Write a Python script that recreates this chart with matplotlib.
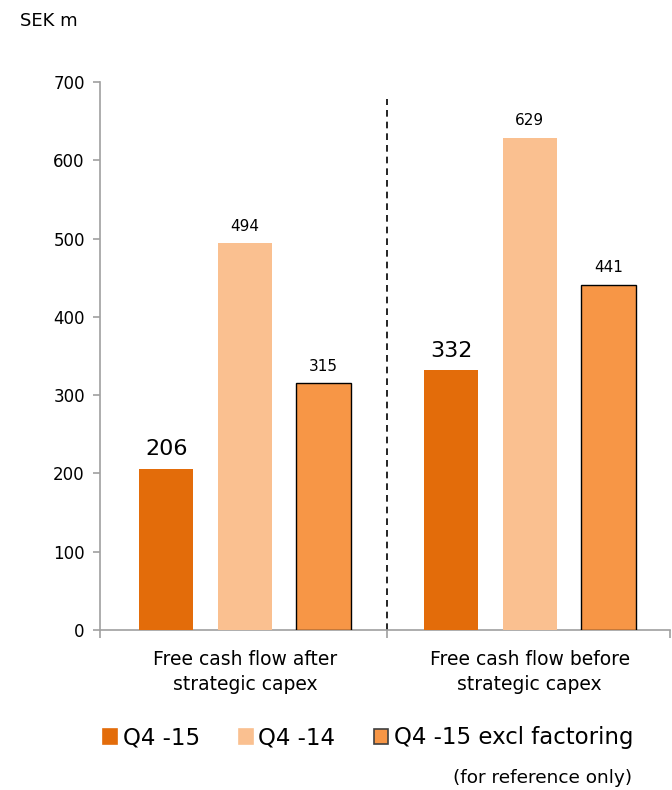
import numpy as np
import matplotlib
matplotlib.use('Agg')
import matplotlib.pyplot as plt
from matplotlib.patches import Patch

# data
categories = ["Free cash flow after\nstrategic capex", "Free cash flow before\nstrategic capex"]
series_names = ["Q4 -15", "Q4 -14", "Q4 -15 excl factoring"]
q4_15 = [206, 332]
q4_14 = [494, 629]
q4_15_excl = [315, 441]

colors = ["#E36C0A", "#FAC090", "#F79646"]
edges = ["none", "none", "black"]
label_sizes = [16, 11, 11]

plt.rcParams['font.family'] = ['Verdana', 'DejaVu Sans']

fig = plt.figure(figsize=(6.72, 7.9), dpi=100)
ax = fig.add_axes([0.149, 0.2025, 0.848, 0.6935])

x = np.arange(len(categories))
w = 0.19
step = 0.276
for i, vals in enumerate([q4_15, q4_14, q4_15_excl]):
    pos = x + (i - 1) * step
    ax.bar(pos, vals, w, color=colors[i], edgecolor=edges[i],
           linewidth=1.0 if edges[i] != "none" else 0, zorder=3)
    for p, v in zip(pos, vals):
        ax.text(p, v + 12, str(v), ha='center', va='bottom',
                fontsize=label_sizes[i], color='black')

xl = (-0.508, 1.492)
ax.set_xlim(*xl)
ax.set_ylim(0, 700)
ax.set_yticks(np.arange(0, 701, 100))
ax.set_xticks([xl[0], 0.5, xl[1]])
ax.set_xticklabels([])
for xi, c in zip(x, categories):
    ax.text(xi, -25, c, ha='center', va='top', fontsize=13.5,
            linespacing=1.4, transform=ax.transData)

ax.vlines(0.5, 0, 678, colors='black', linestyles=(0, (4, 3)), linewidth=1.2)

for s in ['top', 'right']:
    ax.spines[s].set_visible(False)
for s in ['left', 'bottom']:
    ax.spines[s].set_color('#A0A0A0')
    ax.spines[s].set_linewidth(1.2)
ax.tick_params(axis='y', colors='#A0A0A0', labelcolor='black', labelsize=12,
               length=5, width=1.2, pad=6)
ax.tick_params(axis='x', colors='#A0A0A0', length=6, width=1.2, direction='out')

fig.text(0.03, 0.973, "SEK m", fontsize=13, ha='left', va='center')

handles = [Patch(facecolor=colors[i], edgecolor=('#404040' if edges[i] != "none" else colors[i]),
                 linewidth=1.2) for i in range(3)]
fig.legend(handles, series_names, loc='center', bbox_to_anchor=(0.548, 0.066),
           ncol=3, frameon=False, fontsize=16.5, handlelength=0.6, handleheight=0.6,
           handletextpad=0.25, columnspacing=1.7)

fig.text(0.94, 0.015, "(for reference only)", fontsize=13.3, ha='right', va='center')

fig.savefig("out.png", dpi=100)
